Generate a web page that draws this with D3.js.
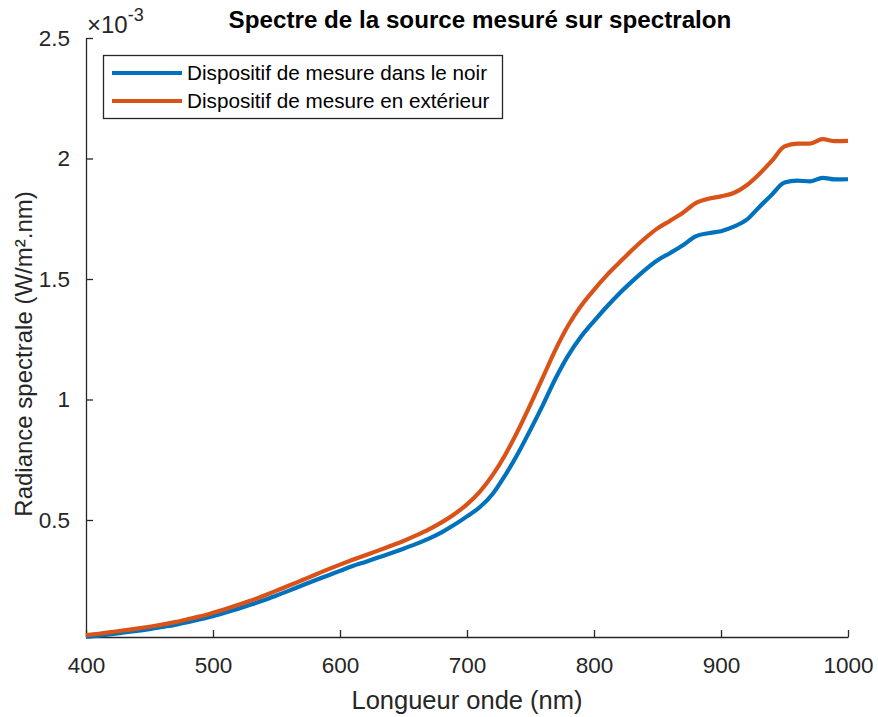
<!DOCTYPE html>
<html>
<head>
<meta charset="utf-8">
<script src="https://cdn.jsdelivr.net/npm/d3@7"></script>
<style>
  html, body { margin: 0; padding: 0; background: #fff; }
  svg { display: block; font-family: "Liberation Sans", Arial, Helvetica, sans-serif; }
</style>
</head>
<body>
<svg id="chart" width="878" height="717"></svg>
<script>
// Wavelengths (nm)
const wavelengths = [400,410,420,430,440,450,460,470,480,490,500,510,520,530,540,550,560,570,580,590,600,610,620,630,640,650,660,670,680,690,700,710,720,730,740,750,760,770,780,790,800,810,820,830,840,850,860,870,880,890,900,910,920,930,940,950,960,970,980,990,1000];
// Radiance (x 1e-3 W/m².nm) — measured in the dark
const seriesDark = [0.015,0.020,0.026,0.033,0.040,0.047,0.056,0.065,0.076,0.088,0.101,0.116,0.132,0.149,0.167,0.187,0.207,0.228,0.249,0.269,0.289,0.309,0.326,0.344,0.362,0.381,0.401,0.423,0.449,0.480,0.515,0.553,0.607,0.685,0.775,0.875,0.980,1.090,1.185,1.262,1.325,1.385,1.440,1.490,1.537,1.578,1.608,1.640,1.677,1.690,1.698,1.717,1.745,1.798,1.850,1.900,1.908,1.905,1.920,1.913,1.914];
// Radiance (x 1e-3 W/m².nm) — measured outdoors
const seriesOutdoor = [0.022,0.028,0.035,0.042,0.049,0.057,0.066,0.076,0.088,0.100,0.115,0.131,0.148,0.166,0.186,0.207,0.228,0.250,0.272,0.294,0.315,0.335,0.354,0.373,0.393,0.413,0.436,0.461,0.490,0.524,0.565,0.617,0.685,0.770,0.870,0.980,1.095,1.210,1.310,1.390,1.455,1.515,1.568,1.620,1.668,1.710,1.742,1.775,1.815,1.833,1.843,1.857,1.888,1.935,1.990,2.050,2.062,2.062,2.080,2.072,2.073];
const seriesNames = ["Dispositif de mesure dans le noir", "Dispositif de mesure en extérieur"];
const seriesColors = ["#0072BD", "#D95319"];
const xTicks = [400,500,600,700,800,900,1000];
const yTicks = [0.5,1,1.5,2,2.5];
const titleText = "Spectre de la source mesuré sur spectralon";
const xLabelText = "Longueur onde (nm)";
const yLabelText = "Radiance spectrale (W/m².nm)";

const svg = d3.select("#chart");
const mLeft = 86, mRight = 848, mTop = 38, mBottom = 637;

const x = d3.scaleLinear().domain([400, 1000]).range([mLeft, mRight]);
const y = d3.scaleLinear().domain([0.0145, 2.5]).range([mBottom, mTop]);

const axisColor = "#262626";
const tickFont = 22.5;

// X axis
const gx = svg.append("g").attr("transform", `translate(0,${mBottom})`)
  .call(d3.axisBottom(x).tickValues(xTicks).tickSizeInner(-7).tickSizeOuter(0).tickPadding(20).tickFormat(d3.format("d")));
gx.select(".domain").attr("stroke", axisColor).attr("stroke-width", 1.3);
gx.selectAll(".tick line").attr("stroke", axisColor).attr("stroke-width", 1.3);
gx.selectAll(".tick text").attr("fill", axisColor).attr("font-size", tickFont)
  .attr("font-family", "Liberation Sans, Arial, sans-serif").attr("dy", "0.71em");

// Y axis
const gy = svg.append("g").attr("transform", `translate(${mLeft},0)`)
  .call(d3.axisLeft(y).tickValues(yTicks).tickSizeInner(-7).tickSizeOuter(0).tickPadding(16).tickFormat(d => String(d)));
gy.select(".domain").attr("stroke", axisColor).attr("stroke-width", 1.3);
gy.selectAll(".tick line").attr("stroke", axisColor).attr("stroke-width", 1.3);
gy.selectAll(".tick text").attr("fill", axisColor).attr("font-size", tickFont)
  .attr("font-family", "Liberation Sans, Arial, sans-serif");

// Exponent label
const expo = svg.append("text").attr("x", 87).attr("y", 33).attr("fill", axisColor)
  .attr("font-size", 24);
expo.append("tspan").text("×10");
expo.append("tspan").attr("font-size", 18).attr("dy", -12).text("-3");

// Lines
const line = d3.line().x(d => x(d[0])).y(d => y(d[1])).curve(d3.curveMonotoneX);
[seriesDark, seriesOutdoor].forEach((s, i) => {
  const pts = wavelengths.map((w, j) => [w, s[j]]);
  svg.append("path").datum(pts).attr("d", line)
    .attr("fill", "none").attr("stroke", seriesColors[i]).attr("stroke-width", 4.2)
    .attr("stroke-linejoin", "round").attr("stroke-linecap", "butt");
});

// Title
svg.append("text").attr("x", 480).attr("y", 28).attr("text-anchor", "middle")
  .attr("font-size", 24.2).attr("font-weight", "bold").attr("fill", "#000").text(titleText);

// X label
svg.append("text").attr("x", 467).attr("y", 709).attr("text-anchor", "middle")
  .attr("font-size", 25.5).attr("fill", axisColor).text(xLabelText);

// Y label
svg.append("text").attr("transform", `translate(32,354) rotate(-90)`)
  .attr("text-anchor", "middle").attr("font-size", 24).attr("fill", axisColor).text(yLabelText);

// Legend
const lg = svg.append("g");
lg.append("rect").attr("x", 103.5).attr("y", 55.5).attr("width", 399).attr("height", 63)
  .attr("fill", "#fff").attr("stroke", axisColor).attr("stroke-width", 1.3);
seriesNames.forEach((name, i) => {
  const ly = 73 + i * 28;
  lg.append("line").attr("x1", 112).attr("x2", 182).attr("y1", ly).attr("y2", ly)
    .attr("stroke", seriesColors[i]).attr("stroke-width", 4.2);
  lg.append("text").attr("x", 187).attr("y", ly).attr("dy", "0.35em")
    .attr("font-size", 20.7).attr("fill", "#000").text(name);
});
</script>
</body>
</html>
